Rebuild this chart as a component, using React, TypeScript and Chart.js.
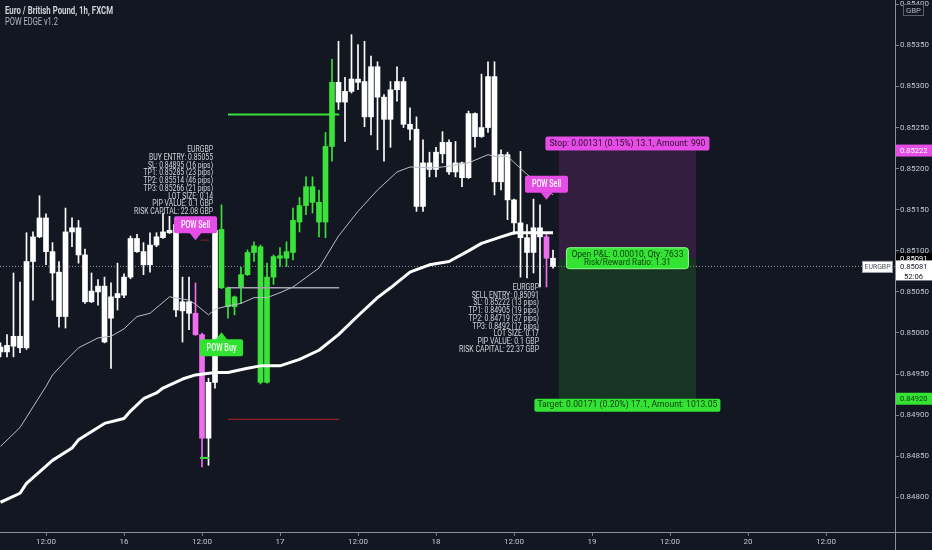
import { useEffect, useRef } from "react";
import { Chart, registerables } from "chart.js";

Chart.register(...registerables);

// ---------- DATA ----------
const hours = [
  -19, -18, -17, -16, -15, -14, -13, -12, -11, -10,
  -9, -8, -7, -6, -5, -4, -3, -2, -1, 0,
  1, 2, 3, 4, 5, 6, 7, 8, 9, 10,
  11, 12, 13, 14, 15, 16, 17, 18, 19, 20,
  21, 22, 23, 24, 25, 26, 27, 28, 29, 30,
  31, 32, 33, 34, 35, 36, 37, 38, 39, 40,
  41, 42, 43, 44, 45, 46, 47, 48, 49, 50,
  51, 52, 53, 54, 55, 56, 57, 58, 59, 60,
  61, 62, 63, 64, 65, 66,
];

const opens = [
  0.84983, 0.84977, 0.84984, 0.84996, 0.84982, 0.85087, 0.85117, 0.8514, 0.85099, 0.85074,
  0.8502, 0.85123, 0.85128, 0.85095, 0.85038, 0.8505, 0.85057, 0.85018, 0.85043, 0.85046,
  0.85068, 0.85115, 0.85099, 0.85083, 0.85107, 0.85116, 0.85122, 0.85132, 0.85027, 0.85038,
  0.85024, 0.84998, 0.84872, 0.8494, 0.85126, 0.85055, 0.85032, 0.85056, 0.85071, 0.85098,
  0.85105, 0.8494, 0.85068, 0.85094, 0.85091, 0.85098, 0.85135, 0.85155, 0.85178, 0.85159,
  0.85135, 0.85227, 0.85305, 0.85281, 0.85294, 0.85309, 0.85306, 0.85263, 0.85324, 0.85287,
  0.8526, 0.85296, 0.85306, 0.85254, 0.85248, 0.85154, 0.85207, 0.85199, 0.85218, 0.85232,
  0.85196, 0.85207, 0.85189, 0.85267, 0.85239, 0.8525, 0.85312, 0.85184, 0.85217, 0.85162,
  0.85134, 0.85116, 0.85098, 0.85128, 0.85117, 0.85091,
];

const highs = [
  0.84988, 0.84998, 0.85073, 0.85062, 0.85122, 0.85123, 0.85167, 0.85145, 0.8511, 0.85087,
  0.85152, 0.8514, 0.85137, 0.85102, 0.85073, 0.85065, 0.85068, 0.85061, 0.85085, 0.85072,
  0.85118, 0.8512, 0.8511, 0.85122, 0.85122, 0.85146, 0.85142, 0.85135, 0.85068, 0.85068,
  0.85061, 0.85, 0.84945, 0.85127, 0.85156, 0.85056, 0.85045, 0.8508, 0.85101, 0.85111,
  0.85107, 0.85085, 0.85095, 0.85104, 0.85111, 0.85152, 0.85165, 0.8519, 0.8519, 0.85174,
  0.85244, 0.85333, 0.85355, 0.85311, 0.85363, 0.85351, 0.85355, 0.85337, 0.8533, 0.8529,
  0.85306, 0.85324, 0.85311, 0.85274, 0.85263, 0.85235, 0.8522, 0.85226, 0.85245, 0.85235,
  0.85233, 0.85208, 0.8527, 0.85268, 0.85315, 0.8533, 0.8533, 0.85223, 0.8522, 0.85163,
  0.85221, 0.85132, 0.85163, 0.85156, 0.8512, 0.85101,
];

const lows = [
  0.84971, 0.84971, 0.84971, 0.84976, 0.8498, 0.8504, 0.85116, 0.85083, 0.8504, 0.85007,
  0.85006, 0.85105, 0.85085, 0.85036, 0.85037, 0.85034, 0.84988, 0.84957, 0.85028, 0.85043,
  0.85066, 0.85098, 0.85071, 0.85074, 0.85105, 0.85115, 0.85121, 0.8502, 0.84989, 0.85004,
  0.84997, 0.84837, 0.84839, 0.84933, 0.85054, 0.85018, 0.85022, 0.85036, 0.8507, 0.85087,
  0.84938, 0.84939, 0.85059, 0.85081, 0.85081, 0.85089, 0.85123, 0.85144, 0.85146, 0.85117,
  0.85116, 0.85209, 0.85272, 0.85233, 0.85292, 0.85296, 0.85251, 0.85241, 0.85223, 0.85209,
  0.85226, 0.85282, 0.8525, 0.85235, 0.85148, 0.85148, 0.8519, 0.8519, 0.85207, 0.85193,
  0.8519, 0.85178, 0.85188, 0.85226, 0.85238, 0.85244, 0.85168, 0.85174, 0.85138, 0.8512,
  0.85068, 0.85067, 0.85073, 0.85056, 0.85056, 0.85079,
];

const closes = [
  0.84977, 0.84985, 0.84996, 0.84982, 0.85087, 0.85117, 0.8514, 0.85099, 0.85073, 0.8502,
  0.85123, 0.85128, 0.85095, 0.85038, 0.85051, 0.85057, 0.84989, 0.85044, 0.85048, 0.85068,
  0.85115, 0.85099, 0.85083, 0.85107, 0.85117, 0.85123, 0.85125, 0.85028, 0.85038, 0.85024,
  0.84998, 0.84872, 0.8494, 0.85125, 0.85055, 0.85032, 0.85044, 0.85071, 0.85098, 0.85106,
  0.8494, 0.85068, 0.85093, 0.85091, 0.85099, 0.85137, 0.85155, 0.85178, 0.85159, 0.85135,
  0.85227, 0.85305, 0.85281, 0.85294, 0.85309, 0.85305, 0.85263, 0.85324, 0.85287, 0.8526,
  0.85296, 0.85306, 0.85254, 0.85248, 0.85154, 0.85207, 0.85199, 0.8522, 0.85232, 0.85196,
  0.85207, 0.85189, 0.85267, 0.85239, 0.8525, 0.85312, 0.85184, 0.85217, 0.85162, 0.85134,
  0.85116, 0.85098, 0.85128, 0.85117, 0.85091, 0.85081,
];

// w = neutral, g = buy phase, p = sell signal
const phases = [
  "w", "w", "w", "w", "w", "w", "w", "w", "w", "w",
  "w", "w", "w", "w", "w", "w", "w", "w", "w", "w",
  "w", "w", "w", "w", "w", "w", "w", "w", "w", "w",
  "p", "p", "w", "w", "g", "g", "g", "g", "g", "g",
  "g", "g", "g", "g", "g", "g", "g", "g", "g", "g",
  "g", "g", "w", "w", "w", "w", "w", "w", "w", "w",
  "w", "w", "w", "w", "w", "w", "w", "w", "w", "w",
  "w", "w", "w", "w", "w", "w", "w", "w", "w", "w",
  "w", "w", "w", "w", "p", "w",
];

const maFastHours = [-19, -16, -14, -12, -11, -9, -7, -4, -2, 0, 2, 4, 7, 10, 11, 13, 14, 16, 18, 20, 22, 24, 26, 30, 33, 36, 39, 42, 44, 47, 49, 53, 56, 57, 59, 62, 66];
const maFastValues = [0.84862, 0.84885, 0.8491, 0.84935, 0.84949, 0.84966, 0.84982, 0.84994, 0.84996, 0.85005, 0.8502, 0.85024, 0.85044, 0.8504, 0.85035, 0.85022, 0.85029, 0.85033, 0.85036, 0.85043, 0.85043, 0.85049, 0.85056, 0.85079, 0.85118, 0.85148, 0.85174, 0.85196, 0.85202, 0.85201, 0.85202, 0.85207, 0.85217, 0.85215, 0.85215, 0.85193, 0.85168];

const maSlowHours = [-19, -16, -15, -11, -8, -7, -3, 0, 1, 3, 5, 6, 9, 11, 14, 16, 19, 21, 24, 27, 30, 33, 36, 39, 41, 44, 45, 47, 50, 53, 55, 58, 60, 62, 66];
const maSlowValues = [0.84794, 0.84805, 0.84817, 0.84845, 0.8486, 0.8487, 0.8489, 0.84896, 0.84905, 0.8492, 0.84927, 0.84933, 0.84944, 0.84949, 0.84952, 0.84952, 0.84957, 0.8496, 0.8496, 0.84968, 0.84979, 0.84998, 0.85021, 0.85043, 0.85055, 0.85074, 0.85077, 0.85083, 0.85087, 0.851, 0.85109, 0.85117, 0.85122, 0.85122, 0.85122];

// buy signal levels (drawn from h=16 to h=33.1)
const buyLevelSpan = [16, 33.1];
const buyLevelPrices = [0.85266, 0.85055, 0.84895]; // TP3, entry, SL
const sellMarkSpan = [11.8, 13.1];
const sellMarkPrice = 0.85113;
const buyMarkSpan = [11.7, 13.1];
const buyMarkPrice = 0.84848;

// short position tool
const tradeSpan = [66.9, 88];
const tradeEntry = 0.85091;
const tradeStop = 0.85222;
const tradeTarget = 0.8492;
const lastPrice = 0.85081;

const signals = [
  { hour: 11, price: 0.85113, kind: "sell", text: "POW Sell" },
  { hour: 65, price: 0.85162, kind: "sell", text: "POW Sell" },
  { hour: 15, price: 0.85001, kind: "buy", text: "POW Buy" },
];

const buyInfo = [
  "EURGBP",
  "BUY ENTRY: 0.85055",
  "SL: 0.84895 (16 pips)",
  "TP1: 0.85285 (23 pips)",
  "TP2: 0.85514 (46 pips)",
  "TP3: 0.85266 (21 pips)",
  "LOT SIZE: 0.14",
  "PIP VALUE: 0.1 GBP",
  "RISK CAPITAL: 22.08 GBP",
];
const sellInfo = [
  "EURGBP",
  "SELL ENTRY: 0.85091",
  "SL: 0.85222 (13 pips)",
  "TP1: 0.84905 (19 pips)",
  "TP2: 0.84719 (37 pips)",
  "TP3: 0.8492 (17 pips)",
  "LOT SIZE: 0.17",
  "PIP VALUE: 0.1 GBP",
  "RISK CAPITAL: 22.37 GBP",
];

const stopText = "Stop: 0.00131 (0.15%) 13.1, Amount: 990";
const pnlText = ["Open P&L: 0.00010, Qty: 7633", "Risk/Reward Ratio: 1.31"];
const targetText = "Target: 0.00171 (0.20%) 17.1, Amount: 1013.05";

const timeTickHours = [-12, 0, 12, 24, 36, 48, 60, 72, 84, 96, 108];
const timeTickLabels = ["12:00", "16", "12:00", "17", "12:00", "18", "12:00", "19", "12:00", "20", "12:00"];
const priceTicks = [0.848, 0.8485, 0.849, 0.8495, 0.85, 0.8505, 0.851, 0.8515, 0.852, 0.8525, 0.853, 0.8535, 0.854];

const titleText = "Euro / British Pound, 1h, FXCM";
const indicatorText = "POW EDGE v1.2";
const symbolText = "EURGBP";
const countdownText = "52:06";
const currencyText = "GBP";

// ---------- STYLE ----------
const BG = "#131722";
const WHITE = "#ffffff";
const GREEN = "#3be23b";
const PINK = "#ef6ef0";
const LABEL_PINK = "#e64de6";
const LABEL_GREEN = "#30e330";
const TEXT = "#d1d4dc";
const FONT = "Roboto, 'DejaVu Sans', sans-serif";

const X_MIN = -124 / 6.5;
const X_MAX = X_MIN + 895 / 6.5;
const PX_PER_PRICE = 82180;
const Y_MAX = 0.85 + 333 / PX_PER_PRICE;
const Y_MIN = Y_MAX - 532 / PX_PER_PRICE;

const colorOf = (p: string) => (p === "g" ? GREEN : p === "p" ? PINK : WHITE);

function roundRect(ctx: any, x: number, y: number, w: number, h: number, r: number) {
  ctx.beginPath();
  ctx.moveTo(x + r, y);
  ctx.arcTo(x + w, y, x + w, y + h, r);
  ctx.arcTo(x + w, y + h, x, y + h, r);
  ctx.arcTo(x, y + h, x, y, r);
  ctx.arcTo(x, y, x + w, y, r);
  ctx.closePath();
}

function squeezeText(ctx: any, text: string, x: number, y: number, align: string, sx: number) {
  ctx.save();
  ctx.translate(x, y);
  ctx.scale(sx, 1);
  ctx.textAlign = align;
  ctx.textBaseline = "middle";
  ctx.fillText(text, 0, 0);
  ctx.restore();
}

function fitText(ctx: any, text: string, x: number, y: number, align: string, width: number) {
  const m = ctx.measureText(text).width;
  squeezeText(ctx, text, x, y, align, width / m);
}

const overlay = {
  id: "overlay",
  beforeDraw(chart: any) {
    const ctx = chart.ctx;
    ctx.save();
    ctx.fillStyle = BG;
    ctx.fillRect(0, 0, chart.width, chart.height);
    ctx.restore();
  },
  beforeDatasetsDraw(chart: any) {
    const ctx = chart.ctx;
    const xs = chart.scales.x;
    const ys = chart.scales.y;
    const x1 = xs.getPixelForValue(tradeSpan[0]);
    const x2 = xs.getPixelForValue(tradeSpan[1]);
    const yE = ys.getPixelForValue(tradeEntry);
    const yS = ys.getPixelForValue(tradeStop);
    const yT = ys.getPixelForValue(tradeTarget);
    ctx.save();
    ctx.fillStyle = "rgba(233, 77, 233, 0.15)";
    ctx.fillRect(x1, yS, x2 - x1, yE - yS);
    ctx.fillStyle = "rgba(51, 230, 51, 0.15)";
    ctx.fillRect(x1, yE, x2 - x1, yT - yE);
    ctx.restore();
  },
  afterDatasetsDraw(chart: any) {
    const ctx = chart.ctx;
    const xs = chart.scales.x;
    const ys = chart.scales.y;
    const X = (h: number) => xs.getPixelForValue(h);
    const Y = (p: number) => ys.getPixelForValue(p);
    ctx.save();

    // signal labels
    for (const s of signals) {
      const cx = X(s.hour);
      const tip = Y(s.price);
      const w = 43, h = 17, th = 7, tw = 6;
      const top = s.kind === "sell" ? tip - th - h : tip + th;
      ctx.fillStyle = s.kind === "sell" ? LABEL_PINK : LABEL_GREEN;
      roundRect(ctx, cx - w / 2, top, w, h, 2);
      ctx.fill();
      ctx.beginPath();
      if (s.kind === "sell") {
        ctx.moveTo(cx - tw, top + h - 0.5);
        ctx.lineTo(cx + tw, top + h - 0.5);
        ctx.lineTo(cx, tip);
      } else {
        ctx.moveTo(cx - tw, top + 0.5);
        ctx.lineTo(cx + tw, top + 0.5);
        ctx.lineTo(cx, tip);
      }
      ctx.closePath();
      ctx.fill();
      ctx.fillStyle = "#ffffff";
      ctx.font = `500 10px ${FONT}`;
      fitText(ctx, s.text, cx, top + h / 2 + 0.5, "center", s.kind === "sell" ? 29 : 30);
    }

    // info blocks
    ctx.fillStyle = TEXT;
    ctx.font = `9px ${FONT}`;
    const drawBlock = (lines: string[], rightH: number, topPrice: number, width: number) => {
      const sx = width / ctx.measureText(lines[lines.length - 1]).width;
      const rx = X(rightH);
      const y0 = Y(topPrice);
      lines.forEach((t, i) => squeezeText(ctx, t, rx, y0 + i * 7.7, "right", sx));
    };
    drawBlock(buyInfo, 13.7, 0.852225, 79);
    drawBlock(sellInfo, 63.85, 0.85055, 80);

    // position tool labels
    const x1 = X(tradeSpan[0]);
    const x2 = X(tradeSpan[1]);
    const cx = (x1 + x2) / 2;
    const yE = Y(tradeEntry);
    const yS = Y(tradeStop);
    const yT = Y(tradeTarget);

    ctx.fillStyle = LABEL_PINK;
    roundRect(ctx, cx - 82, yS - 14, 164, 14, 2);
    ctx.fill();
    ctx.fillStyle = "#2b0b2b";
    ctx.font = `9px ${FONT}`;
    fitText(ctx, stopText, cx, yS - 7, "center", 156);

    ctx.fillStyle = "#34e334";
    roundRect(ctx, cx - 61, yE - 10.5, 122, 21, 3);
    ctx.fill();
    ctx.strokeStyle = "#8cff8c";
    ctx.lineWidth = 1;
    ctx.stroke();
    ctx.fillStyle = "#0c3d0c";
    fitText(ctx, pnlText[0], cx, yE - 3.8, "center", 112);
    fitText(ctx, pnlText[1], cx, yE + 4.2, "center", 87);

    ctx.fillStyle = "#34e334";
    roundRect(ctx, cx - 93, yT, 186, 13, 2);
    ctx.fill();
    ctx.fillStyle = "#0c3d0c";
    fitText(ctx, targetText, cx, yT + 6.5, "center", 180);

    ctx.restore();
  },
  afterDraw(chart: any) {
    const ctx = chart.ctx;
    const ys = chart.scales.y;
    const area = chart.chartArea;
    const Y = (p: number) => ys.getPixelForValue(p);
    ctx.save();

    // axis frame lines
    ctx.strokeStyle = "#8c8f98";
    ctx.lineWidth = 1;
    ctx.beginPath();
    ctx.moveTo(Math.round(area.right) + 0.5, 0);
    ctx.lineTo(Math.round(area.right) + 0.5, chart.height);
    ctx.moveTo(0, Math.round(area.bottom) + 0.5);
    ctx.lineTo(chart.width, Math.round(area.bottom) + 0.5);
    ctx.stroke();

    const ax = area.right + 1;
    const aw = chart.width - ax;
    const tag = (price: number, text: string, bg: string, fg: string, h: number) => {
      const y = Y(price);
      ctx.fillStyle = bg;
      ctx.fillRect(ax, y - h / 2, aw, h);
      ctx.fillStyle = fg;
      ctx.font = `8px ${FONT}`;
      squeezeText(ctx, text, ax + 4, y + 0.5, "left", 0.95);
    };
    tag(tradeStop, tradeStop.toFixed(5), LABEL_PINK, "#ffffff", 12);
    tag(tradeTarget, tradeTarget.toFixed(5), "#34e334", "#0c3d0c", 12);
    tag(tradeEntry, tradeEntry.toFixed(5), "#000000", "#ffffff", 10);

    // last price tag with countdown
    const yl = Y(lastPrice);
    ctx.fillStyle = "#ffffff";
    ctx.fillRect(ax, yl - 6, aw, 20);
    ctx.fillStyle = "#131722";
    ctx.font = `8px ${FONT}`;
    squeezeText(ctx, lastPrice.toFixed(5), ax + 4, yl + 0.5, "left", 0.95);
    squeezeText(ctx, countdownText, ax + 8, yl + 10.5, "left", 0.95);

    // symbol tag
    ctx.fillStyle = "#ffffff";
    ctx.fillRect(area.right - 33, yl - 5.5, 31, 12);
    ctx.strokeStyle = "#9598a1";
    ctx.strokeRect(area.right - 33 + 0.5, yl - 5.5 + 0.5, 30, 11);
    ctx.fillStyle = "#50535e";
    ctx.font = `8px ${FONT}`;
    fitText(ctx, symbolText, area.right - 17.5, yl + 0.8, "center", 26);

    // currency box
    ctx.fillStyle = BG;
    ctx.fillRect(903, 4, 21, 12);
    ctx.strokeStyle = "#5d606b";
    ctx.strokeRect(903.5, 4.5, 20, 11);
    ctx.fillStyle = "#b2b5be";
    ctx.font = `8px ${FONT}`;
    fitText(ctx, currencyText, 913.5, 10.5, "center", 15);

    // header
    ctx.fillStyle = "#d1d4dc";
    ctx.font = `bold 10px ${FONT}`;
    fitText(ctx, titleText, 5, 11, "left", 108);
    ctx.fillStyle = "#b2b5be";
    ctx.font = `10px ${FONT}`;
    fitText(ctx, indicatorText, 5, 22, "left", 53);

    ctx.restore();
  },
};

function levelLine(span: number[], price: number, color: string, width: number) {
  return {
    type: "line",
    data: [
      { x: span[0], y: price },
      { x: span[1], y: price },
    ],
    borderColor: color,
    borderWidth: width,
    pointRadius: 0,
    fill: false,
    order: 0,
  };
}

export default function App() {
  const ref = useRef<HTMLCanvasElement | null>(null);

  useEffect(() => {
    document.body.style.margin = "0";
    document.body.style.background = BG;
    const canvas = ref.current;
    if (!canvas) return;
    const colors = phases.map(colorOf);

    const chart = new Chart(canvas, {
      type: "bar",
      data: {
        datasets: [
          {
            type: "line",
            data: maFastHours.map((h, i) => ({ x: h, y: maFastValues[i] })),
            borderColor: "#b9bcc4",
            borderWidth: 1,
            pointRadius: 0,
            fill: false,
            order: 0,
          },
          {
            type: "line",
            data: maSlowHours.map((h, i) => ({ x: h, y: maSlowValues[i] })),
            borderColor: "#ffffff",
            borderWidth: 3,
            borderJoinStyle: "round",
            pointRadius: 0,
            fill: false,
            order: 0,
          },
          levelLine(buyLevelSpan, buyLevelPrices[0], GREEN, 2),
          levelLine(buyLevelSpan, buyLevelPrices[1], "#a3a6ae", 1.5),
          levelLine(buyLevelSpan, buyLevelPrices[2], "#b3242d", 1),
          levelLine(sellMarkSpan, sellMarkPrice, "#8f2228", 1),
          levelLine(buyMarkSpan, buyMarkPrice, GREEN, 2),
          {
            type: "bar",
            data: hours.map((h, i) => ({ x: h, y: [opens[i], closes[i]] })),
            backgroundColor: colors,
            borderWidth: 0,
            barThickness: 5,
            grouped: false,
            order: 1,
          },
          {
            type: "bar",
            data: hours.map((h, i) => ({ x: h, y: [lows[i], highs[i]] })),
            backgroundColor: colors,
            borderWidth: 0,
            barThickness: 1,
            grouped: false,
            order: 2,
          },
          {
            type: "line",
            data: [
              { x: X_MIN, y: lastPrice },
              { x: X_MAX, y: lastPrice },
            ],
            borderColor: "#8a8d96",
            borderWidth: 1,
            borderDash: [1, 2],
            pointRadius: 0,
            fill: false,
            order: 3,
          },
        ],
      } as any,
      options: {
        responsive: false,
        animation: false,
        events: [],
        layout: { padding: 0 },
        plugins: {
          legend: { display: false },
          tooltip: { enabled: false },
        },
        scales: {
          x: {
            type: "linear",
            min: X_MIN,
            max: X_MAX,
            offset: false,
            afterBuildTicks: (s: any) => {
              s.ticks = timeTickHours.map((v) => ({ value: v }));
            },
            afterFit: (s: any) => {
              s.height = 18;
              s.paddingLeft = 0;
              s.paddingRight = 0;
            },
            ticks: {
              color: "#c3c6ce",
              font: { family: FONT, size: 8 },
              padding: 1,
              maxRotation: 0,
              autoSkip: false,
              callback: (v: any) => {
                const i = timeTickHours.indexOf(Number(v));
                return i >= 0 ? timeTickLabels[i] : "";
              },
            },
            grid: {
              display: true,
              drawOnChartArea: false,
              drawTicks: true,
              tickLength: 4,
              color: "#787b86",
              offset: false,
            },
            border: { display: false },
          },
          y: {
            type: "linear",
            position: "right",
            min: Y_MIN,
            max: Y_MAX,
            afterBuildTicks: (s: any) => {
              s.ticks = priceTicks.map((v) => ({ value: v }));
            },
            afterFit: (s: any) => {
              s.width = 37;
              s.paddingTop = 0;
              s.paddingBottom = 0;
            },
            ticks: {
              color: "#c3c6ce",
              font: { family: FONT, size: 8 },
              padding: 1,
              autoSkip: false,
              callback: (v: any) => Number(v).toFixed(5),
            },
            grid: {
              display: true,
              drawOnChartArea: false,
              drawTicks: true,
              tickLength: 4,
              color: "#787b86",
            },
            border: { display: false },
          },
        },
      } as any,
      plugins: [overlay],
    } as any);

    return () => chart.destroy();
  }, []);

  return (
    <div style={{ width: 932, height: 550, background: BG }}>
      <canvas ref={ref} width={932} height={550} style={{ display: "block" }} />
    </div>
  );
}
